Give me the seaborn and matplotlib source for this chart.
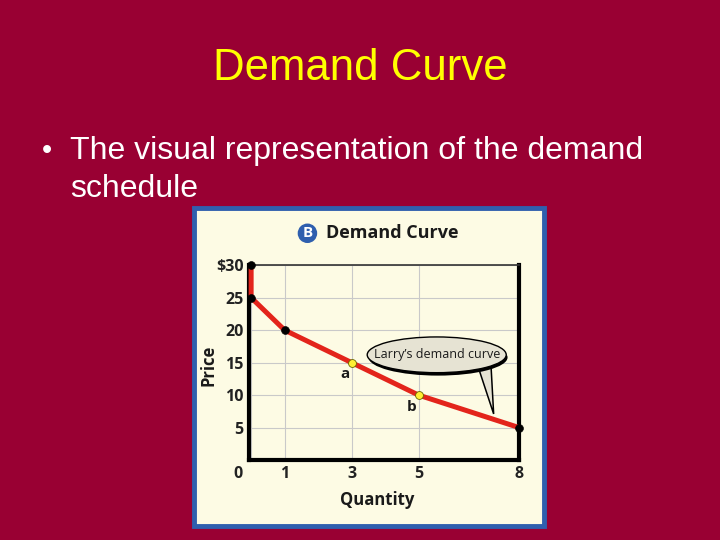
import matplotlib
matplotlib.use("Agg")
import matplotlib.pyplot as plt
import matplotlib.transforms as mtransforms
import pandas as pd
import seaborn as sns
from matplotlib.patches import Ellipse, Polygon, Rectangle

# Demand schedule (Larry)
quantity = [0, 0, 1, 3, 5, 8]
price = [30, 25, 20, 15, 10, 5]
black_pts = [0, 1, 2, 5]
yellow_pts = [3, 4]
point_labels = {"a": 3, "b": 4}
x_ticks = [0, 1, 3, 5, 8]
y_ticks = [5, 10, 15, 20, 25, 30]
y_ticklabels = ["5", "10", "15", "20", "25", "$30"]

BG = "#990033"
RED = "#e3241b"
CREAM = "#fdfbe4"
BUBBLE = "#e6e3d3"

sns.set_theme(style="white")
plt.rcParams["font.family"] = ["Liberation Sans", "DejaVu Sans"]

df = pd.DataFrame({"quantity": quantity, "price": price})

fig = plt.figure(figsize=(7.2, 5.4), dpi=100, facecolor=BG)

# slide text
fig.text(0.5, 0.873, "Demand Curve", color="#ffff00", fontsize=31.5,
         ha="center", va="center")
fig.text(0.058, 0.720, "\u2022", color="white", fontsize=21, ha="left", va="center")
fig.text(0.097, 0.720, "The visual representation of the demand",
         color="white", fontsize=23, ha="left", va="center")
fig.text(0.097, 0.650, "schedule", color="white", fontsize=23,
         ha="left", va="center")

# panel box
panel = Rectangle((0.270, 0.026), 0.486, 0.589, transform=fig.transFigure,
                  facecolor=CREAM, edgecolor="#2f5fae", linewidth=3.5,
                  zorder=-1)
fig.patches.append(panel)

# panel title with circled B
fig.text(0.427, 0.568, "B", color="white", fontsize=11, fontweight="bold",
         family="Open Sans", ha="center", va="center",
         bbox=dict(boxstyle="circle,pad=0.18", fc="#2f5fae", ec="none"))
fig.text(0.453, 0.568, "Demand Curve", color="#1a1a1a", fontsize=13,
         fontweight="bold", family="Open Sans", ha="left", va="center")

ax = fig.add_axes([0.346, 0.148, 0.375, 0.361])
ax.set_facecolor(CREAM)

ax.grid(True, color="#c9c9c9", linewidth=0.8)
sns.lineplot(data=df, x="quantity", y="price", sort=False, estimator=None,
             color=RED, linewidth=3.6, ax=ax, zorder=3, clip_on=False)
sns.scatterplot(data=df.iloc[black_pts], x="quantity", y="price",
                color="black", s=32, edgecolor="black", ax=ax, zorder=4,
                clip_on=False)
sns.scatterplot(data=df.iloc[yellow_pts], x="quantity", y="price",
                color="#ffee33", s=32, edgecolor="#666600", linewidth=0.6,
                ax=ax, zorder=4)

for lab, i in point_labels.items():
    ax.annotate(lab, (quantity[i], price[i]), xytext=(-5, -8.5),
                textcoords="offset points", ha="center", va="center",
                fontsize=11, fontweight="bold", family="Open Sans",
                color="#1a1a1a")

# speech bubble: tail, shadow, ellipse, text
ax.add_patch(Polygon([(6.76, 14.6), (7.16, 14.6), (7.24, 7.1)], closed=True,
                     fc=BUBBLE, ec="black", lw=1.1, zorder=5))
ax.add_patch(Ellipse((5.58, 15.8), 4.15, 5.6, fc="black", ec="none",
                     zorder=5.5))
ax.add_patch(Ellipse((5.54, 16.2), 4.15, 5.5, fc=BUBBLE, ec="black",
                     lw=1.0, zorder=6))
ax.text(5.54, 16.2, "Larry\u2019s demand curve", ha="center", va="center",
        fontsize=9, family="Open Sans", color="#1a1a1a", zorder=7)

ax.set_xlim(-0.06, 8)
ax.set_ylim(0, 30)
ax.set_xticks(x_ticks)
ax.set_xticklabels([str(t) for t in x_ticks])
ax.set_yticks(y_ticks)
ax.set_yticklabels(y_ticklabels)
ax.tick_params(axis="both", labelsize=11.5, colors="#222222", length=0, pad=4)
for t in ax.get_xticklabels() + ax.get_yticklabels():
    t.set_fontfamily("Open Sans")
    t.set_fontweight("bold")
zero_lab = ax.get_xticklabels()[0]
zero_lab.set_transform(zero_lab.get_transform() +
                       mtransforms.ScaledTranslation(-13 / 100, 0,
                                                     fig.dpi_scale_trans))

ax.set_xlabel("Quantity", fontsize=12, fontweight="bold", family="Open Sans",
              color="#1a1a1a")
ax.set_ylabel("Price", fontsize=12, fontweight="bold", family="Open Sans",
              color="#1a1a1a")
ax.xaxis.set_label_coords(0.475, -0.158)
ax.yaxis.set_label_coords(-0.118, 0.487)

for side in ["left", "bottom"]:
    ax.spines[side].set_color("black")
    ax.spines[side].set_linewidth(3)
ax.spines["right"].set_color("black")
ax.spines["right"].set_linewidth(3)
ax.spines["top"].set_color("#333333")
ax.spines["top"].set_linewidth(1.2)

fig.savefig("out.png", dpi=100, facecolor=BG)
